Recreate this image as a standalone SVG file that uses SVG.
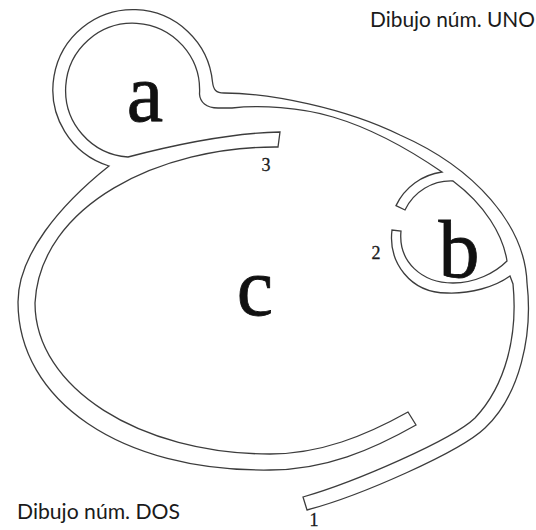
<svg xmlns="http://www.w3.org/2000/svg" width="536" height="530" viewBox="0 0 536 530">
<style>
.wall{fill:#ffffff;stroke:#3c3c3c;stroke-width:1.3;stroke-linejoin:miter}
.big{font-family:"Liberation Serif","Times New Roman",serif;font-size:82px;fill:#111111;stroke:#111111;stroke-width:0.8;text-anchor:middle}
.num{font-family:"Liberation Serif","Times New Roman",serif;font-size:18px;fill:#1a1a1a;stroke:#1a1a1a;stroke-width:0.3;text-anchor:middle}
.cap{font-family:"Lato","Open Sans",sans-serif;font-size:21px;fill:#1a1a1a}
</style>
<rect width="536" height="530" fill="#ffffff"/>
<g id="channels">
<path class="wall" d="M 109 166 A 80 80 0 1 1 212.5 82 C 213.5 90 216 93 224 93 C 270 93 345 108 400 135 C 475 168 525 225 527 283 C 533 335 520 395 485 428 C 460 452 360 496 307 510 L 303 497 C 355 482 452 440 475 418 C 506 385 518 335 513 284 L 510 276 C 495 287 470 294 447 293 C 410 293 388 262 392 230 L 401 231 C 398 262 422 283 453 283 C 475 283 495 273 507 261 C 503 235 485 205 453 181 A 51 51 0 0 0 405 210 L 396 205.6 A 60 60 0 0 1 442 172 C 410 150 370 128 333 117 C 300 107 260 105 232 108 L 218 108 C 206 108 200 102 199.5 94 A 67 67 0 1 0 128 157 C 170 146 230 133 280 132 L 278 147 C 160 146 40 205 35 303 C 35 388 140 454 270 454 C 320 454 365 436 408 412 L 416 425 C 372 450 325 470 270 470 C 120 472 18 400 18 302 C 18 255 60 205 109 166 Z"/>
</g>
<g id="node-a"><text class="big" x="145" y="121">a</text></g>
<g id="node-b"><text class="big" x="459" y="277">b</text></g>
<g id="node-c"><text class="big" x="255" y="315">c</text></g>
<g id="labels">
<text class="num" x="266" y="171">3</text>
<text class="num" x="376" y="259">2</text>
<text class="num" x="314" y="526">1</text>
<text class="cap" x="370" y="27" textLength="165" lengthAdjust="spacingAndGlyphs">Dibujo núm. UNO</text>
<text class="cap" x="17" y="519" textLength="163" lengthAdjust="spacingAndGlyphs">Dibujo núm. DOS</text>
</g>
</svg>
